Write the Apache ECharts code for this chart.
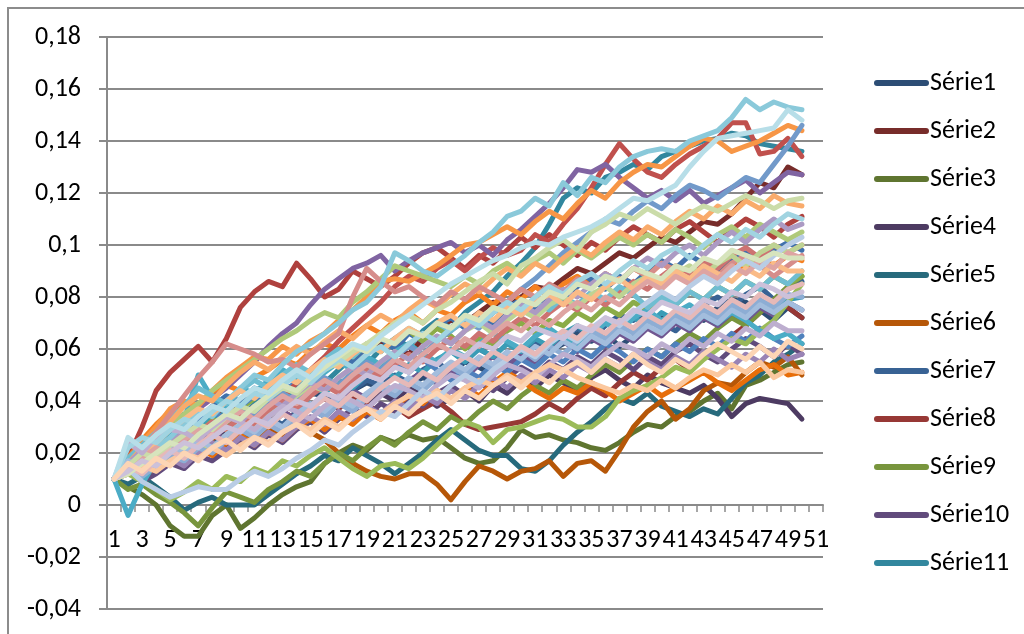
<!DOCTYPE html>
<html>
<head>
<meta charset="utf-8">
<script src="https://cdn.jsdelivr.net/npm/echarts@6/dist/echarts.min.js"></script>
<style>
  html, body { margin: 0; padding: 0; background: #ffffff; }
  #chart { width: 1024px; height: 634px; }
</style>
</head>
<body>
<div id="chart"></div>
<script>
// Category labels (time steps) shown along the horizontal axis
const categories = ['1','2','3','4','5','6','7','8','9','10','11','12','13','14','15','16','17','18','19','20',
  '21','22','23','24','25','26','27','28','29','30','31','32','33','34','35','36','37','38','39','40',
  '41','42','43','44','45','46','47','48','49','50','51'];

// Vertical axis range
const yMin = -0.04, yMax = 0.18, yStep = 0.02;

// One array per simulated path (50 steps each)
const s01 = [0.010,0.015,0.019,0.023,0.022,0.025,0.030,0.028,0.031,0.035,0.034,0.032,0.036,0.040,0.043,0.042,0.039,0.044,0.047,0.045,0.042,0.046,0.049,0.047,0.051,0.055,0.053,0.050,0.055,0.058,0.054,0.059,0.062,0.066,0.063,0.066,0.061,0.065,0.069,0.072,0.070,0.074,0.071,0.076,0.079,0.078,0.075,0.071,0.076,0.072];
const s02 = [0.010,0.016,0.021,0.026,0.024,0.029,0.033,0.037,0.036,0.040,0.044,0.043,0.047,0.051,0.049,0.053,0.057,0.055,0.059,0.063,0.061,0.058,0.064,0.068,0.071,0.070,0.074,0.078,0.076,0.080,0.084,0.083,0.087,0.091,0.089,0.093,0.097,0.095,0.099,0.103,0.101,0.105,0.109,0.108,0.112,0.118,0.124,0.122,0.130,0.127];
const s03 = [0.010,0.007,0.004,0.000,-0.008,-0.012,-0.012,-0.004,0.000,-0.009,-0.005,0.000,0.004,0.007,0.009,0.016,0.020,0.023,0.021,0.026,0.024,0.027,0.025,0.026,0.022,0.018,0.016,0.017,0.022,0.029,0.026,0.027,0.025,0.024,0.022,0.021,0.024,0.028,0.031,0.030,0.034,0.036,0.040,0.043,0.037,0.046,0.048,0.051,0.054,0.055];
const s04 = [0.010,0.013,0.017,0.015,0.020,0.024,0.021,0.026,0.029,0.027,0.032,0.030,0.035,0.033,0.037,0.034,0.039,0.042,0.038,0.043,0.040,0.045,0.042,0.038,0.041,0.044,0.040,0.046,0.043,0.048,0.045,0.050,0.047,0.044,0.049,0.052,0.048,0.045,0.050,0.047,0.045,0.043,0.046,0.041,0.034,0.039,0.041,0.040,0.039,0.033];
const s05 = [0.010,0.008,0.011,0.007,0.003,-0.002,0.001,0.003,0.000,0.000,0.000,0.004,0.008,0.012,0.015,0.019,0.017,0.022,0.019,0.016,0.012,0.016,0.020,0.025,0.029,0.025,0.021,0.019,0.019,0.014,0.013,0.017,0.023,0.028,0.032,0.037,0.041,0.039,0.043,0.038,0.036,0.034,0.037,0.035,0.041,0.047,0.050,0.055,0.058,0.062];
const s06 = [0.010,0.013,0.009,0.015,0.019,0.016,0.021,0.025,0.023,0.028,0.026,0.030,0.027,0.031,0.028,0.025,0.020,0.016,0.013,0.011,0.010,0.012,0.012,0.008,0.002,0.009,0.015,0.013,0.010,0.013,0.014,0.017,0.011,0.016,0.017,0.013,0.021,0.030,0.036,0.040,0.033,0.037,0.044,0.047,0.046,0.051,0.055,0.053,0.057,0.050];
const s07 = [0.010,0.012,0.016,0.020,0.018,0.015,0.019,0.023,0.027,0.025,0.030,0.034,0.031,0.036,0.039,0.035,0.040,0.044,0.048,0.046,0.050,0.047,0.052,0.055,0.051,0.056,0.060,0.057,0.054,0.059,0.063,0.060,0.065,0.068,0.064,0.069,0.073,0.071,0.074,0.070,0.067,0.072,0.077,0.080,0.076,0.081,0.084,0.079,0.083,0.086];
const s08 = [0.010,0.014,0.018,0.015,0.020,0.024,0.022,0.027,0.025,0.030,0.034,0.031,0.036,0.033,0.038,0.041,0.037,0.042,0.039,0.035,0.038,0.034,0.037,0.040,0.036,0.031,0.029,0.030,0.031,0.032,0.035,0.039,0.036,0.041,0.045,0.042,0.047,0.051,0.048,0.053,0.056,0.052,0.058,0.061,0.065,0.069,0.074,0.079,0.076,0.072];
const s09 = [0.010,0.006,0.008,0.004,0.001,-0.003,-0.008,-0.001,0.005,0.003,0.001,0.006,0.009,0.013,0.011,0.016,0.020,0.017,0.022,0.026,0.023,0.028,0.032,0.029,0.034,0.031,0.036,0.040,0.037,0.042,0.046,0.043,0.048,0.045,0.050,0.054,0.051,0.056,0.060,0.057,0.062,0.066,0.063,0.068,0.072,0.069,0.074,0.079,0.084,0.088];
const s10 = [0.010,0.013,0.009,0.012,0.016,0.014,0.019,0.017,0.021,0.025,0.022,0.027,0.024,0.029,0.032,0.028,0.033,0.037,0.034,0.039,0.036,0.041,0.038,0.043,0.046,0.042,0.047,0.044,0.049,0.053,0.050,0.055,0.052,0.057,0.054,0.059,0.056,0.052,0.057,0.054,0.059,0.062,0.058,0.055,0.060,0.064,0.061,0.057,0.062,0.058];
const s11 = [0.010,0.015,0.020,0.018,0.024,0.029,0.027,0.032,0.036,0.033,0.039,0.043,0.040,0.046,0.050,0.047,0.052,0.057,0.054,0.060,0.064,0.061,0.067,0.071,0.068,0.074,0.078,0.082,0.088,0.093,0.099,0.108,0.118,0.122,0.120,0.126,0.128,0.131,0.129,0.134,0.136,0.138,0.140,0.141,0.143,0.142,0.139,0.138,0.137,0.136];
const s12 = [0.010,0.014,0.011,0.016,0.020,0.017,0.022,0.019,0.024,0.027,0.023,0.028,0.025,0.030,0.033,0.029,0.034,0.031,0.036,0.033,0.038,0.042,0.039,0.044,0.040,0.045,0.042,0.047,0.051,0.048,0.044,0.041,0.045,0.043,0.047,0.044,0.040,0.043,0.046,0.042,0.045,0.048,0.051,0.047,0.044,0.048,0.052,0.054,0.050,0.051];
const s13 = [0.010,0.017,0.022,0.027,0.031,0.035,0.033,0.038,0.042,0.040,0.045,0.043,0.048,0.052,0.049,0.054,0.058,0.055,0.061,0.064,0.060,0.066,0.063,0.069,0.072,0.068,0.073,0.070,0.076,0.079,0.075,0.080,0.078,0.084,0.087,0.083,0.088,0.085,0.090,0.094,0.091,0.096,0.093,0.089,0.094,0.097,0.093,0.098,0.101,0.098];
const s14 = [0.010,0.018,0.030,0.044,0.051,0.056,0.061,0.055,0.064,0.076,0.082,0.086,0.084,0.093,0.087,0.080,0.083,0.090,0.087,0.084,0.088,0.093,0.097,0.099,0.095,0.091,0.096,0.093,0.098,0.103,0.099,0.104,0.100,0.096,0.101,0.098,0.103,0.107,0.104,0.101,0.106,0.109,0.105,0.101,0.106,0.110,0.107,0.103,0.108,0.111];
const s15 = [0.010,0.014,0.019,0.016,0.021,0.026,0.029,0.033,0.031,0.037,0.041,0.045,0.049,0.052,0.050,0.055,0.060,0.057,0.062,0.059,0.064,0.067,0.063,0.068,0.065,0.060,0.064,0.062,0.067,0.070,0.066,0.071,0.069,0.074,0.071,0.076,0.073,0.078,0.075,0.080,0.077,0.082,0.079,0.084,0.081,0.086,0.083,0.088,0.085,0.088];
const s16 = [0.010,0.016,0.013,0.018,0.022,0.019,0.024,0.028,0.025,0.030,0.027,0.032,0.036,0.033,0.038,0.035,0.040,0.044,0.041,0.046,0.043,0.048,0.051,0.047,0.052,0.049,0.054,0.057,0.053,0.058,0.055,0.060,0.063,0.059,0.064,0.061,0.066,0.063,0.068,0.065,0.070,0.067,0.072,0.069,0.074,0.071,0.076,0.073,0.078,0.075];
const s17 = [0.010,0.013,0.017,0.022,0.027,0.032,0.030,0.035,0.033,0.038,0.036,0.041,0.039,0.044,0.047,0.043,0.048,0.045,0.050,0.053,0.049,0.054,0.051,0.056,0.059,0.055,0.060,0.057,0.062,0.059,0.064,0.061,0.066,0.069,0.065,0.070,0.067,0.072,0.069,0.074,0.071,0.068,0.073,0.070,0.075,0.072,0.077,0.074,0.079,0.080];
const s18 = [0.010,0.018,0.025,0.031,0.036,0.040,0.038,0.043,0.046,0.044,0.049,0.052,0.056,0.054,0.059,0.062,0.060,0.065,0.069,0.066,0.071,0.074,0.070,0.075,0.073,0.078,0.081,0.077,0.082,0.079,0.084,0.080,0.085,0.088,0.084,0.089,0.086,0.091,0.088,0.093,0.090,0.086,0.091,0.088,0.093,0.090,0.095,0.092,0.096,0.094];
const s19 = [0.010,0.016,0.021,0.025,0.029,0.027,0.032,0.036,0.033,0.038,0.042,0.039,0.044,0.047,0.043,0.048,0.045,0.050,0.053,0.049,0.054,0.051,0.056,0.052,0.048,0.052,0.049,0.054,0.051,0.056,0.053,0.058,0.055,0.060,0.057,0.062,0.059,0.055,0.060,0.057,0.062,0.059,0.064,0.061,0.066,0.063,0.068,0.064,0.061,0.065];
const s20 = [0.010,0.015,0.013,0.018,0.023,0.021,0.027,0.031,0.029,0.034,0.038,0.036,0.041,0.047,0.052,0.057,0.063,0.068,0.073,0.078,0.084,0.088,0.086,0.091,0.094,0.090,0.095,0.099,0.096,0.098,0.104,0.101,0.108,0.114,0.122,0.131,0.139,0.133,0.128,0.126,0.131,0.135,0.138,0.141,0.147,0.147,0.135,0.136,0.141,0.134];
const s21 = [0.010,0.012,0.009,0.006,0.002,0.005,0.009,0.006,0.011,0.009,0.014,0.012,0.017,0.015,0.019,0.022,0.018,0.014,0.011,0.015,0.016,0.014,0.018,0.023,0.028,0.032,0.030,0.024,0.029,0.030,0.032,0.034,0.033,0.030,0.030,0.034,0.041,0.044,0.046,0.049,0.053,0.051,0.056,0.060,0.064,0.062,0.067,0.071,0.078,0.085];
const s22 = [0.010,0.014,0.020,0.025,0.029,0.033,0.037,0.041,0.045,0.050,0.055,0.061,0.066,0.070,0.077,0.083,0.087,0.091,0.093,0.096,0.090,0.094,0.097,0.099,0.101,0.097,0.100,0.096,0.102,0.106,0.111,0.116,0.122,0.129,0.128,0.131,0.126,0.122,0.118,0.121,0.117,0.121,0.116,0.119,0.122,0.125,0.120,0.124,0.128,0.127];
const s23 = [0.010,-0.004,0.008,0.017,0.026,0.033,0.050,0.041,0.038,0.045,0.043,0.048,0.052,0.049,0.046,0.051,0.055,0.052,0.057,0.054,0.059,0.062,0.058,0.055,0.060,0.057,0.062,0.066,0.063,0.060,0.065,0.068,0.064,0.061,0.066,0.070,0.067,0.072,0.075,0.071,0.074,0.077,0.073,0.070,0.074,0.071,0.067,0.064,0.066,0.062];
const s24 = [0.010,0.017,0.024,0.030,0.037,0.040,0.038,0.044,0.049,0.053,0.057,0.056,0.061,0.058,0.063,0.066,0.071,0.075,0.080,0.086,0.087,0.086,0.089,0.092,0.096,0.100,0.101,0.104,0.107,0.104,0.109,0.113,0.110,0.116,0.121,0.118,0.124,0.128,0.131,0.130,0.134,0.138,0.141,0.140,0.136,0.138,0.140,0.143,0.146,0.144];
const s25 = [0.010,0.014,0.018,0.023,0.021,0.026,0.030,0.027,0.032,0.036,0.034,0.039,0.043,0.040,0.045,0.049,0.046,0.051,0.055,0.052,0.057,0.061,0.058,0.063,0.067,0.071,0.068,0.074,0.078,0.083,0.087,0.092,0.097,0.101,0.105,0.110,0.108,0.113,0.117,0.114,0.119,0.123,0.121,0.118,0.122,0.126,0.124,0.131,0.138,0.146];
const s26 = [0.010,0.013,0.017,0.021,0.019,0.024,0.028,0.032,0.029,0.034,0.031,0.036,0.040,0.037,0.042,0.046,0.043,0.048,0.052,0.049,0.054,0.058,0.055,0.060,0.064,0.061,0.066,0.063,0.068,0.072,0.069,0.074,0.078,0.075,0.080,0.077,0.082,0.086,0.083,0.088,0.092,0.089,0.094,0.091,0.096,0.099,0.095,0.100,0.097,0.100];
const s27 = [0.010,0.015,0.021,0.026,0.031,0.035,0.039,0.044,0.048,0.052,0.056,0.060,0.064,0.067,0.071,0.074,0.072,0.078,0.082,0.087,0.092,0.090,0.088,0.086,0.084,0.088,0.085,0.090,0.093,0.089,0.094,0.097,0.093,0.098,0.095,0.099,0.103,0.100,0.104,0.101,0.106,0.103,0.099,0.104,0.107,0.103,0.108,0.105,0.102,0.105];
const s28 = [0.010,0.012,0.016,0.013,0.018,0.015,0.020,0.024,0.021,0.026,0.023,0.028,0.025,0.030,0.034,0.031,0.036,0.033,0.038,0.035,0.040,0.037,0.042,0.039,0.044,0.041,0.046,0.049,0.045,0.050,0.047,0.052,0.049,0.054,0.051,0.056,0.053,0.058,0.055,0.052,0.057,0.054,0.059,0.056,0.053,0.058,0.055,0.060,0.056,0.058];
const s29 = [0.010,0.018,0.023,0.028,0.033,0.038,0.045,0.042,0.039,0.044,0.048,0.045,0.050,0.054,0.051,0.056,0.060,0.057,0.062,0.059,0.064,0.068,0.065,0.070,0.067,0.072,0.069,0.074,0.077,0.073,0.078,0.075,0.080,0.077,0.082,0.079,0.084,0.081,0.076,0.080,0.077,0.082,0.079,0.084,0.081,0.086,0.083,0.088,0.085,0.090];
const s30 = [0.010,0.016,0.022,0.027,0.032,0.038,0.042,0.040,0.046,0.051,0.055,0.052,0.057,0.061,0.058,0.063,0.067,0.064,0.069,0.073,0.070,0.075,0.079,0.076,0.081,0.085,0.082,0.087,0.091,0.088,0.093,0.090,0.095,0.099,0.096,0.101,0.105,0.102,0.107,0.104,0.109,0.113,0.110,0.115,0.112,0.117,0.114,0.119,0.116,0.115];
const s31 = [0.010,0.013,0.011,0.015,0.019,0.017,0.022,0.020,0.025,0.029,0.026,0.031,0.028,0.033,0.037,0.034,0.039,0.036,0.041,0.045,0.042,0.047,0.044,0.049,0.053,0.050,0.055,0.052,0.057,0.060,0.056,0.061,0.058,0.063,0.067,0.064,0.069,0.066,0.071,0.068,0.073,0.070,0.075,0.072,0.077,0.074,0.079,0.076,0.081,0.080];
const s32 = [0.010,0.015,0.021,0.028,0.035,0.042,0.049,0.055,0.062,0.060,0.058,0.055,0.056,0.053,0.058,0.062,0.066,0.080,0.091,0.086,0.082,0.084,0.080,0.077,0.082,0.079,0.084,0.081,0.078,0.083,0.080,0.085,0.082,0.087,0.084,0.089,0.086,0.091,0.088,0.093,0.090,0.086,0.091,0.088,0.093,0.096,0.092,0.088,0.092,0.096];
const s33 = [0.010,0.012,0.015,0.018,0.016,0.020,0.024,0.022,0.027,0.031,0.029,0.034,0.038,0.042,0.046,0.044,0.049,0.053,0.050,0.055,0.059,0.056,0.061,0.065,0.062,0.067,0.070,0.066,0.071,0.075,0.072,0.077,0.080,0.076,0.081,0.084,0.080,0.085,0.088,0.084,0.089,0.092,0.088,0.093,0.096,0.092,0.097,0.100,0.097,0.100];
const s34 = [0.010,0.016,0.021,0.019,0.024,0.028,0.026,0.031,0.035,0.032,0.037,0.041,0.038,0.043,0.047,0.044,0.049,0.053,0.050,0.055,0.059,0.056,0.061,0.065,0.062,0.067,0.071,0.068,0.073,0.077,0.074,0.079,0.083,0.080,0.085,0.089,0.086,0.091,0.095,0.092,0.097,0.100,0.096,0.101,0.105,0.101,0.106,0.110,0.106,0.108];
const s35 = [0.010,0.013,0.017,0.022,0.026,0.031,0.036,0.034,0.040,0.045,0.050,0.048,0.054,0.059,0.062,0.066,0.070,0.075,0.078,0.084,0.097,0.094,0.090,0.088,0.092,0.096,0.101,0.105,0.111,0.113,0.118,0.115,0.124,0.119,0.126,0.124,0.130,0.134,0.136,0.137,0.136,0.140,0.142,0.144,0.149,0.156,0.152,0.155,0.153,0.152];
const s36 = [0.010,0.014,0.019,0.024,0.029,0.033,0.037,0.035,0.040,0.044,0.041,0.046,0.050,0.047,0.052,0.056,0.053,0.058,0.062,0.059,0.064,0.068,0.065,0.070,0.073,0.069,0.074,0.071,0.076,0.073,0.078,0.081,0.077,0.082,0.079,0.084,0.087,0.083,0.088,0.085,0.090,0.087,0.092,0.089,0.086,0.091,0.088,0.093,0.090,0.090];
const s37 = [0.010,0.017,0.014,0.019,0.023,0.020,0.025,0.022,0.027,0.031,0.028,0.033,0.030,0.035,0.039,0.036,0.041,0.038,0.043,0.047,0.044,0.049,0.046,0.051,0.055,0.052,0.057,0.054,0.059,0.056,0.061,0.058,0.063,0.060,0.065,0.062,0.067,0.064,0.069,0.066,0.071,0.068,0.073,0.070,0.075,0.072,0.077,0.074,0.078,0.075];
const s38 = [0.010,0.014,0.018,0.022,0.020,0.025,0.029,0.027,0.032,0.036,0.033,0.038,0.042,0.039,0.044,0.048,0.045,0.050,0.054,0.051,0.056,0.053,0.058,0.062,0.059,0.064,0.061,0.066,0.070,0.067,0.072,0.069,0.074,0.078,0.075,0.080,0.077,0.082,0.086,0.083,0.088,0.085,0.090,0.087,0.092,0.089,0.094,0.091,0.097,0.095];
const s39 = [0.010,0.015,0.020,0.018,0.023,0.027,0.031,0.029,0.034,0.038,0.036,0.041,0.045,0.043,0.048,0.052,0.055,0.059,0.062,0.066,0.070,0.073,0.070,0.075,0.078,0.082,0.086,0.089,0.085,0.092,0.095,0.099,0.102,0.098,0.105,0.108,0.112,0.110,0.114,0.111,0.108,0.112,0.115,0.113,0.116,0.119,0.117,0.114,0.117,0.118];
const s40 = [0.010,0.024,0.020,0.026,0.029,0.028,0.025,0.030,0.034,0.032,0.029,0.034,0.038,0.036,0.033,0.038,0.042,0.040,0.037,0.042,0.046,0.044,0.041,0.046,0.050,0.048,0.045,0.050,0.054,0.052,0.049,0.054,0.058,0.056,0.053,0.058,0.062,0.060,0.057,0.062,0.059,0.064,0.061,0.066,0.063,0.068,0.065,0.070,0.067,0.067];
const s41 = [0.010,0.022,0.026,0.024,0.029,0.033,0.031,0.036,0.040,0.038,0.043,0.041,0.046,0.050,0.047,0.052,0.056,0.053,0.058,0.061,0.057,0.062,0.066,0.063,0.068,0.072,0.069,0.074,0.078,0.075,0.080,0.084,0.081,0.086,0.089,0.085,0.090,0.094,0.091,0.096,0.099,0.095,0.100,0.104,0.101,0.106,0.103,0.108,0.112,0.110];
const s42 = [0.010,0.012,0.015,0.013,0.017,0.020,0.018,0.022,0.019,0.023,0.026,0.024,0.028,0.031,0.029,0.033,0.030,0.034,0.037,0.035,0.039,0.042,0.040,0.044,0.041,0.045,0.048,0.046,0.050,0.047,0.051,0.054,0.052,0.049,0.047,0.045,0.043,0.046,0.044,0.048,0.045,0.049,0.052,0.050,0.054,0.051,0.055,0.049,0.052,0.051];
const s43 = [0.010,0.014,0.009,0.006,0.003,0.005,0.007,0.006,0.006,0.010,0.013,0.011,0.014,0.018,0.021,0.025,0.023,0.028,0.032,0.036,0.034,0.039,0.044,0.041,0.046,0.050,0.047,0.052,0.056,0.060,0.057,0.062,0.066,0.063,0.068,0.072,0.069,0.074,0.078,0.082,0.079,0.084,0.088,0.085,0.090,0.094,0.091,0.096,0.100,0.103];
const s44 = [0.010,0.015,0.012,0.017,0.021,0.018,0.023,0.027,0.024,0.029,0.033,0.030,0.035,0.032,0.037,0.041,0.038,0.043,0.040,0.045,0.049,0.046,0.051,0.048,0.053,0.057,0.054,0.059,0.056,0.061,0.058,0.063,0.067,0.064,0.069,0.066,0.071,0.068,0.073,0.070,0.075,0.072,0.077,0.074,0.079,0.076,0.081,0.078,0.083,0.085];
const s45 = [0.010,0.012,0.016,0.020,0.024,0.022,0.027,0.031,0.035,0.033,0.038,0.042,0.046,0.044,0.049,0.053,0.057,0.061,0.059,0.064,0.062,0.067,0.065,0.070,0.068,0.073,0.071,0.076,0.074,0.079,0.077,0.082,0.080,0.085,0.083,0.088,0.086,0.091,0.089,0.087,0.092,0.090,0.095,0.093,0.098,0.096,0.094,0.097,0.095,0.095];
const s46 = [0.010,0.013,0.017,0.015,0.020,0.024,0.022,0.026,0.030,0.028,0.033,0.031,0.036,0.040,0.038,0.043,0.041,0.046,0.050,0.048,0.053,0.051,0.056,0.054,0.059,0.057,0.062,0.060,0.065,0.063,0.068,0.066,0.064,0.069,0.067,0.072,0.070,0.075,0.073,0.078,0.076,0.074,0.079,0.077,0.082,0.080,0.085,0.083,0.080,0.082];
const s47 = [0.010,0.026,0.022,0.027,0.031,0.029,0.034,0.038,0.036,0.041,0.045,0.043,0.048,0.052,0.049,0.055,0.058,0.062,0.060,0.065,0.069,0.073,0.077,0.081,0.085,0.088,0.091,0.094,0.096,0.099,0.101,0.100,0.103,0.105,0.107,0.110,0.114,0.118,0.117,0.120,0.123,0.130,0.136,0.141,0.142,0.143,0.144,0.145,0.152,0.148];
const s48 = [0.010,0.016,0.013,0.018,0.015,0.020,0.017,0.022,0.025,0.021,0.026,0.023,0.028,0.031,0.027,0.032,0.029,0.034,0.037,0.033,0.038,0.035,0.040,0.043,0.039,0.044,0.041,0.046,0.049,0.045,0.050,0.047,0.052,0.055,0.051,0.056,0.053,0.058,0.054,0.051,0.056,0.053,0.058,0.062,0.059,0.056,0.061,0.057,0.063,0.060];

const seriesValues = [s01,s02,s03,s04,s05,s06,s07,s08,s09,s10,s11,s12,s13,s14,s15,s16,
  s17,s18,s19,s20,s21,s22,s23,s24,s25,s26,s27,s28,s29,s30,s31,s32,
  s33,s34,s35,s36,s37,s38,s39,s40,s41,s42,s43,s44,s45,s46,s47,s48];
const seriesNames = seriesValues.map((_, i) => 'Série' + (i + 1));
const legendNames = seriesNames.slice(0, 11);

// Office-style palette: six accents repeated in darker then lighter variants
const accents = ['#4F81BD', '#C0504D', '#9BBB59', '#8064A2', '#4BACC6', '#F79646'];
const variants = [{ m: 0.6 }, { m: 0.76 }, { m: 0.88 }, { m: 1 }, { t: 0.2 }, { t: 0.35 }, { t: 0.48 }, { t: 0.6 }];

function hexToHsl(hex) {
  const r = parseInt(hex.slice(1, 3), 16) / 255, g = parseInt(hex.slice(3, 5), 16) / 255, b = parseInt(hex.slice(5, 7), 16) / 255;
  const mx = Math.max(r, g, b), mn = Math.min(r, g, b);
  let h = 0, s = 0; const l = (mx + mn) / 2;
  if (mx !== mn) {
    const d = mx - mn;
    s = l > 0.5 ? d / (2 - mx - mn) : d / (mx + mn);
    if (mx === r) h = (g - b) / d + (g < b ? 6 : 0);
    else if (mx === g) h = (b - r) / d + 2;
    else h = (r - g) / d + 4;
    h /= 6;
  }
  return [h, s, l];
}
function hslToHex(h, s, l) {
  const f = (p, q, t) => {
    if (t < 0) t += 1; if (t > 1) t -= 1;
    if (t < 1 / 6) return p + (q - p) * 6 * t;
    if (t < 1 / 2) return q;
    if (t < 2 / 3) return p + (q - p) * (2 / 3 - t) * 6;
    return p;
  };
  let r, g, b;
  if (s === 0) { r = g = b = l; } else {
    const q = l < 0.5 ? l * (1 + s) : l + s - l * s, p = 2 * l - q;
    r = f(p, q, h + 1 / 3); g = f(p, q, h); b = f(p, q, h - 1 / 3);
  }
  const x = v => Math.round(v * 255).toString(16).padStart(2, '0');
  return '#' + x(r) + x(g) + x(b);
}
function variantColor(index) {
  const base = hexToHsl(accents[index % 6]);
  const v = variants[Math.floor(index / 6) % variants.length];
  const l = v.m !== undefined ? base[2] * v.m : base[2] + (1 - base[2]) * v.t;
  return hslToHex(base[0], base[1], l);
}

const FONT = 'Carlito, Lato, sans-serif';
const FONT_SIZE = 26;
const GRID_GRAY = '#8a8a8a';

// The category axis sits on the zero line: the plot spans -0.04..0.18, so
// the axis is lifted from the grid bottom by the height of that 0.04 band.
const plotTop = 37, plotBottom = 609;
const zeroOffset = (plotBottom - plotTop) * (0 - yMin) / (yMax - yMin);

const chart = echarts.init(document.getElementById('chart'), null, { renderer: 'canvas' });
chart.setOption({
  animation: false,
  backgroundColor: '#ffffff',
  color: seriesValues.map((_, i) => variantColor(i)),
  graphic: [{
    type: 'rect',
    shape: { x: 8, y: 8, width: 1200, height: 800 },
    style: { fill: 'none', stroke: '#8c8c8c', lineWidth: 2 },
    silent: true,
    z: -1
  }],
  grid: { left: 107, right: 201, top: plotTop, bottom: 634 - plotBottom, containLabel: false, outerBoundsMode: 'none' },
  legend: {
    data: legendNames,
    orient: 'vertical',
    left: 869,
    top: 65,
    itemWidth: 55,
    itemHeight: 6,
    itemGap: 22,
    icon: 'path://M3,0L52,0A3,3,0,0,1,52,6L3,6A3,3,0,0,1,3,0Z',
    textStyle: { fontFamily: FONT, fontSize: FONT_SIZE, color: '#000000', lineHeight: 26, padding: [0, 0, 0, -4] }
  },
  xAxis: {
    type: 'category',
    data: categories,
    boundaryGap: true,
    position: 'bottom',
    offset: -zeroOffset,
    axisLine: { show: true, onZero: false, lineStyle: { color: GRID_GRAY, width: 2 } },
    axisTick: { show: true, interval: 0, length: 7, lineStyle: { color: GRID_GRAY, width: 1.5 } },
    axisLabel: { interval: 1, margin: 22, fontFamily: FONT, fontSize: FONT_SIZE, color: '#000000', hideOverlap: false },
    splitLine: { show: false }
  },
  yAxis: {
    type: 'value',
    min: yMin,
    max: yMax,
    interval: yStep,
    axisLine: { show: true, lineStyle: { color: GRID_GRAY, width: 2 } },
    axisTick: { show: true, length: 8, lineStyle: { color: GRID_GRAY, width: 2 } },
    axisLabel: {
      margin: 26, fontFamily: FONT, fontSize: FONT_SIZE, color: '#000000',
      formatter: v => String(Math.round(v * 100) / 100).replace('.', ',')
    },
    splitLine: { show: true, lineStyle: { color: GRID_GRAY, width: 2 } }
  },
  series: seriesValues.map((vals, i) => ({
    name: seriesNames[i],
    type: 'line',
    data: vals,
    showSymbol: false,
    symbol: 'none',
    smooth: false,
    lineStyle: { width: 5, cap: 'round', join: 'round' },
    emphasis: { disabled: true }
  }))
});
</script>
</body>
</html>
